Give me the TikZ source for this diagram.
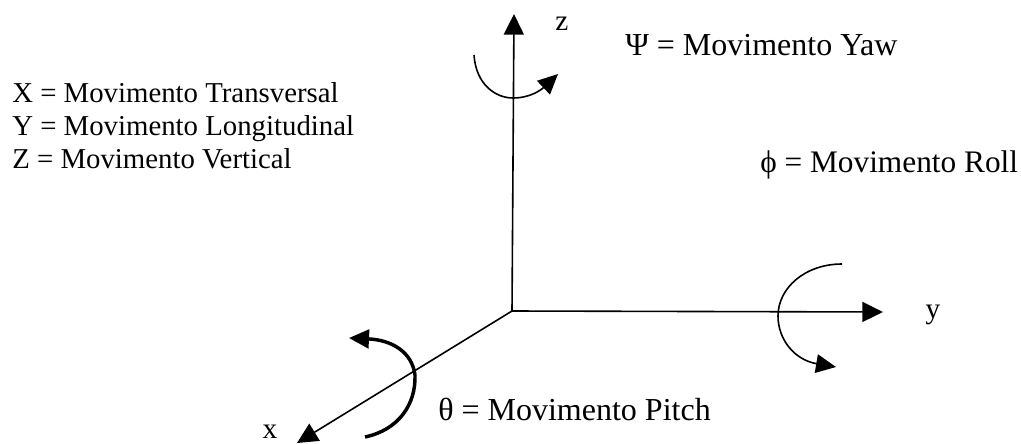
\documentclass[tikz,border=0pt]{standalone}
\usepackage{fontspec}
\setmainfont{Liberation Serif}
\usetikzlibrary{arrows.meta}
\tikzset{
  axisline/.style={draw=black,line width=1.2,-{Triangle[length=15.5pt,width=15pt]}},
  turnline/.style={draw=black,line width=1.2,-{Triangle[length=15pt,width=14pt]}},
  pitchline/.style={draw=black,line width=2.6,-{Triangle[length=15pt,width=14pt]}},
  label/.style={anchor=base west,inner sep=0pt,font=\fontsize{24}{24}\selectfont},
  rolltext/.style={label,font=\fontsize{23.5}{24}\selectfont},
  sidelabel/.style={label,font=\fontsize{21.6}{22}\selectfont},
  axislabel/.style={anchor=base,inner sep=0pt,font=\fontsize{22}{22}\selectfont}
}
\begin{document}
\begin{tikzpicture}[x=0.75pt,y=0.75pt,yscale=-1,xscale=1]
\useasboundingbox (0,0) rectangle (1021,443);

% Axes
\coordinate (origin) at (512,311);
\coordinate (ztip) at (514,14);
\coordinate (ytip) at (883,312);
\coordinate (xtip) at (297,443);
\draw [axisline] (origin) -- (ztip);
\draw [axisline] (origin) -- (ytip);
\draw [axisline] (origin) -- (xtip);

% Curve Lines
\coordinate (yawstart) at (474,55);
\coordinate (yawtip) at (558,74);
\draw [turnline] (yawstart) .. controls (476,85) and (496,98) .. (513,98) .. controls (530,98) and (541,90) .. (yawtip);
\coordinate (rollstart) at (842,264);
\coordinate (rolltip) at (836,367);
\draw [turnline] (rollstart) .. controls (805,264) and (778,288) .. (778,316) .. controls (778,340) and (795,360) .. (rolltip);
\coordinate (pitchstart) at (365,437);
\coordinate (pitchtip) at (349,338);
\draw [pitchline] (pitchstart) .. controls (398,430) and (416,405) .. (415,375) .. controls (412,352) and (392,340) .. (pitchtip);

% Text Node
\node [axislabel] (zlabel) at (562,30) {z};
\node [axislabel] (ylabel) at (933,318) {y};
\node [axislabel] (xlabel) at (270,438) {x};
\node [label] (yawlabel) at (625,55) {Ψ = Movimento Yaw};
\node [sidelabel] (translabel) at (12,102) {X = Movimento Transversal};
\node [sidelabel] (longlabel) at (12,135) {Y = Movimento Longitudinal};
\node [sidelabel] (vertlabel) at (12,168) {Z = Movimento Vertical};
\node [rolltext] (rolllabel) at (760,172) {ϕ = Movimento Roll};
\node [label] (pitchlabel) at (438,420) {θ = Movimento Pitch};
\end{tikzpicture}
\end{document}
